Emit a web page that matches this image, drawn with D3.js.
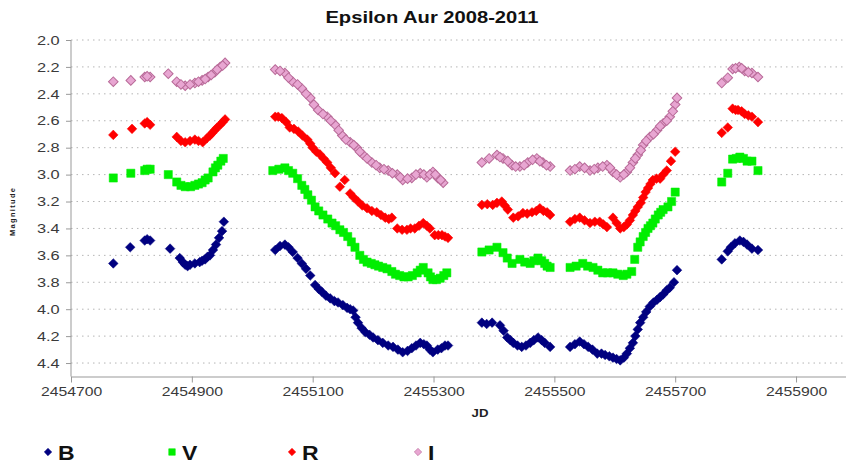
<!DOCTYPE html>
<html>
<head>
<meta charset="utf-8">
<script src="https://cdn.jsdelivr.net/npm/d3@7"></script>
<style>
  body { margin: 0; background: #fff; }
  svg { display: block; font-family: "Liberation Sans", Arial, sans-serif; }
</style>
</head>
<body>
<svg id="chart" width="846" height="464"></svg>
<script>
// [JD, magnitude], one array per band
const bData = [
  [2454770, 3.66], [2454798, 3.54], [2454822, 3.49], [2454831, 3.49], [2454864, 3.55],
  [2454880, 3.62], [2454889, 3.67], [2454897, 3.67], [2454905, 3.66], [2454913, 3.65],
  [2454922, 3.63], [2454930, 3.60], [2454935, 3.56], [2454940, 3.52], [2454945, 3.47], [2454953, 3.35],
  [2455038, 3.56], [2455054, 3.52], [2455067, 3.575], [2455082, 3.66], [2455096, 3.75],
  [2455104, 3.82], [2455115, 3.87], [2455129, 3.92], [2455142, 3.95], [2455157, 3.99],
  [2455167, 4.01], [2455175, 4.10], [2455187, 4.17], [2455200, 4.21], [2455216, 4.25],
  [2455233, 4.28], [2455249, 4.32], [2455264, 4.29], [2455278, 4.25], [2455289, 4.27],
  [2455299, 4.32], [2455307, 4.30], [2455319, 4.27], [2455324, 4.27],
  [2455380, 4.10], [2455397, 4.10], [2455410, 4.12], [2455422, 4.21], [2455432, 4.25],
  [2455446, 4.28], [2455460, 4.25], [2455473, 4.21], [2455484, 4.25], [2455493, 4.28],
  [2455526, 4.28], [2455542, 4.24], [2455556, 4.28], [2455571, 4.33], [2455584, 4.34],
  [2455597, 4.36], [2455609, 4.38], [2455620, 4.33], [2455630, 4.25], [2455638, 4.15],
  [2455647, 4.06], [2455658, 3.98], [2455670, 3.93], [2455680, 3.89], [2455691, 3.84],
  [2455698, 3.80], [2455703, 3.71],
  [2455777, 3.63], [2455787, 3.57], [2455799, 3.51], [2455807, 3.49], [2455819, 3.52],
  [2455827, 3.55], [2455837, 3.56],
  // denser stretches of the band
  [2454826, 3.48], [2454885, 3.65], [2454893, 3.68], [2454917, 3.64], [2454926, 3.61], [2454950, 3.42],
  [2455046, 3.53], [2455060, 3.54], [2455075, 3.62], [2455089, 3.70], [2455110, 3.85],
  [2455122, 3.90], [2455136, 3.94], [2455150, 3.97], [2455162, 4.00], [2455171, 4.06],
  [2455181, 4.14], [2455194, 4.19], [2455208, 4.23], [2455225, 4.27], [2455241, 4.30],
  [2455257, 4.31], [2455271, 4.27], [2455284, 4.26], [2455294, 4.30], [2455313, 4.29],
  [2455388, 4.11], [2455416, 4.16], [2455427, 4.23], [2455439, 4.27], [2455453, 4.27],
  [2455466, 4.23], [2455479, 4.23], [2455534, 4.26], [2455549, 4.26], [2455563, 4.30],
  [2455578, 4.33], [2455591, 4.35], [2455603, 4.37], [2455615, 4.36], [2455625, 4.29],
  [2455634, 4.20], [2455642, 4.10], [2455652, 4.02], [2455664, 3.95], [2455675, 3.91],
  [2455686, 3.86], [2455792, 3.54], [2455813, 3.50]
];
const vData = [
  [2454770, 3.025], [2454799, 2.99], [2454822, 2.97], [2454831, 2.96], [2454861, 3.00],
  [2454875, 3.055], [2454889, 3.09], [2454905, 3.08], [2454917, 3.06], [2454927, 3.025],
  [2454935, 2.98], [2454943, 2.93], [2454952, 2.88],
  [2455034, 2.97], [2455054, 2.95], [2455067, 2.99], [2455082, 3.08], [2455092, 3.15],
  [2455104, 3.24], [2455117, 3.30], [2455132, 3.36], [2455145, 3.41], [2455158, 3.46],
  [2455170, 3.54], [2455178, 3.60], [2455190, 3.65], [2455203, 3.67], [2455216, 3.69],
  [2455231, 3.72], [2455244, 3.75], [2455258, 3.76], [2455273, 3.73], [2455283, 3.69],
  [2455291, 3.73], [2455299, 3.78], [2455311, 3.77], [2455322, 3.73],
  [2455380, 3.575], [2455405, 3.54], [2455415, 3.58], [2455430, 3.66], [2455443, 3.63],
  [2455460, 3.66], [2455473, 3.62], [2455484, 3.66], [2455493, 3.69],
  [2455526, 3.69], [2455547, 3.66], [2455564, 3.69], [2455580, 3.73], [2455597, 3.73],
  [2455614, 3.75], [2455628, 3.72], [2455633, 3.63], [2455638, 3.54], [2455647, 3.46],
  [2455655, 3.40], [2455663, 3.36], [2455672, 3.30], [2455680, 3.26], [2455688, 3.24],
  [2455700, 3.13],
  [2455777, 3.055], [2455787, 2.99], [2455795, 2.885], [2455807, 2.87], [2455819, 2.90],
  [2455827, 2.90], [2455837, 2.97],
  // denser stretches of the band
  [2454826, 2.96], [2454882, 3.08], [2454898, 3.09], [2454911, 3.07], [2454922, 3.04],
  [2454939, 2.95], [2454948, 2.90],
  [2455044, 2.96], [2455060, 2.97], [2455075, 3.03], [2455087, 3.11], [2455098, 3.19],
  [2455110, 3.27], [2455125, 3.33], [2455138, 3.38], [2455151, 3.43], [2455164, 3.50],
  [2455184, 3.63], [2455197, 3.66], [2455209, 3.68], [2455223, 3.70], [2455237, 3.74],
  [2455251, 3.76], [2455265, 3.75], [2455278, 3.71], [2455295, 3.76], [2455305, 3.78],
  [2455317, 3.75],
  [2455392, 3.56], [2455422, 3.62], [2455451, 3.65], [2455466, 3.64], [2455479, 3.64],
  [2455488, 3.68], [2455536, 3.68], [2455555, 3.68], [2455572, 3.71], [2455588, 3.73],
  [2455605, 3.74], [2455620, 3.74], [2455642, 3.50], [2455651, 3.43], [2455659, 3.38],
  [2455667, 3.33], [2455676, 3.28], [2455694, 3.20], [2455801, 2.88], [2455813, 2.88]
];
const rData = [
  [2454770, 2.705], [2454801, 2.66], [2454822, 2.62], [2454831, 2.63], [2454875, 2.72],
  [2454889, 2.76], [2454905, 2.74], [2454918, 2.76], [2454930, 2.71], [2454938, 2.67],
  [2454947, 2.63], [2454955, 2.59],
  [2455038, 2.57], [2455049, 2.58], [2455062, 2.65], [2455076, 2.68], [2455091, 2.74],
  [2455100, 2.80], [2455112, 2.85], [2455124, 2.91], [2455137, 2.99], [2455145, 3.09],
  [2455153, 3.04], [2455162, 3.14], [2455175, 3.20], [2455190, 3.25], [2455206, 3.28],
  [2455220, 3.32], [2455231, 3.32], [2455240, 3.40], [2455256, 3.41], [2455269, 3.40],
  [2455283, 3.36], [2455294, 3.40], [2455302, 3.45], [2455314, 3.45], [2455324, 3.47],
  [2455380, 3.225], [2455398, 3.225], [2455413, 3.20], [2455423, 3.26], [2455432, 3.32],
  [2455448, 3.285], [2455463, 3.28], [2455476, 3.25], [2455488, 3.28], [2455493, 3.30],
  [2455526, 3.35], [2455542, 3.32], [2455559, 3.36], [2455575, 3.35], [2455587, 3.39],
  [2455597, 3.32], [2455609, 3.40], [2455620, 3.37], [2455630, 3.30], [2455638, 3.24],
  [2455647, 3.17], [2455655, 3.10], [2455663, 3.04], [2455675, 3.03], [2455686, 2.97],
  [2455700, 2.83],
  [2455777, 2.69], [2455787, 2.65], [2455795, 2.51], [2455804, 2.52], [2455815, 2.55],
  [2455827, 2.57], [2455837, 2.61],
  // denser stretches of the band
  [2454826, 2.61], [2454882, 2.75], [2454897, 2.75], [2454911, 2.75], [2454925, 2.73],
  [2454934, 2.69], [2454942, 2.65], [2454951, 2.61],
  [2455043, 2.57], [2455056, 2.61], [2455069, 2.66], [2455083, 2.71], [2455096, 2.77],
  [2455106, 2.83], [2455118, 2.88], [2455130, 2.95], [2455168, 3.17], [2455182, 3.23],
  [2455198, 3.27], [2455213, 3.30], [2455226, 3.33], [2455248, 3.41], [2455262, 3.40],
  [2455276, 3.38], [2455289, 3.38], [2455308, 3.45], [2455319, 3.46],
  [2455389, 3.22], [2455405, 3.21], [2455418, 3.23], [2455440, 3.31], [2455455, 3.29],
  [2455470, 3.27], [2455482, 3.27], [2455534, 3.33], [2455550, 3.34], [2455567, 3.35],
  [2455581, 3.37], [2455603, 3.36], [2455615, 3.39], [2455625, 3.34], [2455634, 3.27],
  [2455643, 3.21], [2455651, 3.13], [2455659, 3.07], [2455669, 3.03], [2455680, 3.00],
  [2455693, 2.90], [2455800, 2.52], [2455810, 2.53], [2455821, 2.56]
];
const iData = [
  [2454770, 2.31], [2454799, 2.30], [2454822, 2.275], [2454831, 2.275], [2454861, 2.25],
  [2454875, 2.31], [2454889, 2.34], [2454905, 2.32], [2454917, 2.30], [2454927, 2.275],
  [2454938, 2.24], [2454947, 2.20], [2454955, 2.17],
  [2455038, 2.22], [2455054, 2.245], [2455067, 2.31], [2455082, 2.36], [2455096, 2.43],
  [2455109, 2.52], [2455124, 2.57], [2455137, 2.63], [2455149, 2.71], [2455162, 2.76],
  [2455173, 2.80], [2455183, 2.85], [2455198, 2.91], [2455211, 2.95], [2455225, 2.97],
  [2455240, 3.00], [2455249, 3.04], [2455264, 3.025], [2455278, 2.99], [2455289, 3.02],
  [2455299, 2.98], [2455307, 3.025], [2455316, 3.06],
  [2455380, 2.91], [2455405, 2.855], [2455415, 2.88], [2455430, 2.93], [2455443, 2.94],
  [2455456, 2.91], [2455471, 2.88], [2455481, 2.91], [2455493, 2.94],
  [2455526, 2.97], [2455542, 2.94], [2455559, 2.97], [2455572, 2.95], [2455587, 2.93],
  [2455597, 2.98], [2455609, 3.02], [2455620, 2.98], [2455630, 2.91], [2455638, 2.855],
  [2455647, 2.78], [2455658, 2.72], [2455670, 2.67], [2455680, 2.62], [2455691, 2.57],
  [2455700, 2.48], [2455703, 2.43],
  [2455777, 2.32], [2455787, 2.28], [2455795, 2.215], [2455806, 2.20], [2455815, 2.23],
  [2455827, 2.245], [2455837, 2.275],
  // denser stretches of the band
  [2454826, 2.27], [2454882, 2.33], [2454897, 2.33], [2454911, 2.31], [2454922, 2.29],
  [2454932, 2.26], [2454942, 2.22], [2454951, 2.19],
  [2455046, 2.23], [2455060, 2.28], [2455075, 2.33], [2455089, 2.40], [2455102, 2.48],
  [2455117, 2.55], [2455130, 2.60], [2455143, 2.67], [2455155, 2.74], [2455168, 2.78],
  [2455178, 2.83], [2455190, 2.88], [2455205, 2.93], [2455218, 2.96], [2455232, 2.99],
  [2455245, 3.02], [2455257, 3.03], [2455271, 3.00], [2455284, 3.00], [2455294, 3.00],
  [2455303, 3.00], [2455312, 3.04],
  [2455392, 2.88], [2455410, 2.87], [2455423, 2.90], [2455436, 2.94], [2455450, 2.93],
  [2455464, 2.89], [2455476, 2.90], [2455487, 2.93], [2455534, 2.96], [2455550, 2.95],
  [2455566, 2.96], [2455580, 2.94], [2455592, 2.95], [2455603, 3.00], [2455615, 3.00],
  [2455625, 2.95], [2455634, 2.88], [2455643, 2.82], [2455652, 2.75], [2455664, 2.70],
  [2455675, 2.64], [2455686, 2.60], [2455696, 2.53], [2455800, 2.21], [2455810, 2.21],
  [2455821, 2.24]
];

const yTicks = [2.0, 2.2, 2.4, 2.6, 2.8, 3.0, 3.2, 3.4, 3.6, 3.8, 4.0, 4.2, 4.4];
const xTicks = [2454700, 2454900, 2455100, 2455300, 2455500, 2455700, 2455900];

const series = [
  { name: "B", data: bData, shape: "diamond", fill: "#000080", stroke: "#000080" },
  { name: "V", data: vData, shape: "square",  fill: "#00ee00", stroke: "#00ee00" },
  { name: "R", data: rData, shape: "diamond", fill: "#ff0000", stroke: "#ff0000" },
  { name: "I", data: iData, shape: "diamond", fill: "#e8a6d2", stroke: "#b86a98" }
];

const svg = d3.select("#chart");
const plotLeft = 71, plotTop = 40, plotBottom = 376.5;
const stretch = "scale(1.26,1)";

const x = d3.scaleLinear().domain([2454700, 2456000]).range([plotLeft, plotLeft + 1300 * 0.6042]);
const y = d3.scaleLinear().domain([2.0, 4.5]).range([plotTop, plotBottom]);

// dotted horizontal gridlines
svg.append("g").selectAll("line")
  .data(yTicks)
  .enter().append("line")
  .attr("x1", plotLeft).attr("x2", 846)
  .attr("y1", d => y(d)).attr("y2", d => y(d))
  .attr("stroke", "#b5b5b5")
  .attr("stroke-dasharray", "1.5,4");

// axes
const yAxis = svg.append("g")
  .attr("transform", `translate(${plotLeft},0)`)
  .call(d3.axisLeft(y).tickValues(yTicks).tickFormat(d3.format(".1f")).tickSize(5).tickPadding(4).tickSizeOuter(0));
yAxis.select(".domain").attr("stroke", "#999").attr("d", `M0,${plotTop}V${plotBottom}`);
yAxis.selectAll(".tick line").attr("stroke", "#999");
yAxis.selectAll("text")
  .attr("transform", stretch)
  .style("font-size", "13px")
  .attr("fill", "#3a3a3a");

const xAxis = svg.append("g")
  .attr("transform", `translate(0,${plotBottom})`)
  .call(d3.axisBottom(x).tickValues(xTicks).tickFormat(d3.format("d")).tickSize(6).tickPadding(5).tickSizeOuter(0));
xAxis.select(".domain").attr("stroke", "#999");
xAxis.selectAll(".tick line").attr("stroke", "#999");
xAxis.selectAll(".tick text")
  .attr("transform", stretch)
  .style("font-size", "12.5px")
  .attr("fill", "#3a3a3a");

function markerPath(s) {
  return d3.symbol(d3.symbolSquare, s * s)();
}

// points
series.forEach(sr => {
  const side = sr.shape === "square" ? 8.2 : 6.8;
  svg.append("g").selectAll("path")
    .data(sr.data)
    .enter().append("path")
    .attr("d", markerPath(side))
    .attr("transform", d => `translate(${x(d[0])},${y(d[1])})` + (sr.shape === "diamond" ? " rotate(45)" : ""))
    .attr("fill", sr.fill)
    .attr("stroke", sr.stroke)
    .attr("stroke-width", sr.name === "I" ? 1 : 0.5);
});

// title and axis titles
svg.append("text")
  .attr("transform", `translate(432,23) ${stretch}`)
  .attr("text-anchor", "middle")
  .style("font-size", "16px").style("font-weight", "bold")
  .attr("fill", "#111")
  .text("Epsilon Aur 2008-2011");

svg.append("text")
  .attr("transform", `translate(480,417) ${stretch}`)
  .attr("text-anchor", "middle")
  .style("font-size", "10.5px").style("font-weight", "bold")
  .attr("fill", "#222")
  .text("JD");

svg.append("text")
  .attr("transform", "translate(15,212) rotate(-90)")
  .attr("text-anchor", "middle")
  .style("font-size", "7.5px").style("font-weight", "bold")
  .attr("fill", "#222")
  .attr("textLength", 48)
  .text("Magnitude");

// legend
const legendX = [48, 172, 292, 418];
const legend = svg.append("g").selectAll("g")
  .data(series)
  .enter().append("g")
  .attr("transform", (d, i) => `translate(${legendX[i]},452)`);
legend.append("path")
  .attr("d", d => markerPath(d.shape === "square" ? 6.5 : 5.2))
  .attr("transform", d => d.shape === "diamond" ? "rotate(45)" : null)
  .attr("fill", d => d.fill)
  .attr("stroke", d => d.stroke)
  .attr("stroke-width", 0.6);
legend.append("text")
  .attr("transform", "translate(10,7.5) scale(1.15,1)")
  .style("font-size", "20px").style("font-weight", "bold")
  .attr("fill", "#111")
  .text(d => d.name);
</script>
</body>
</html>
